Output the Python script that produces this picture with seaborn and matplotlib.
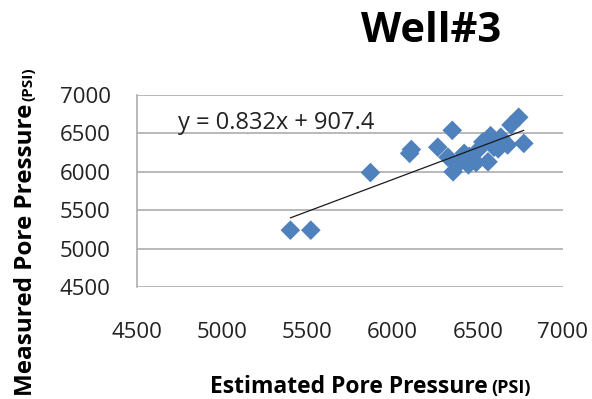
import matplotlib
matplotlib.use("Agg")
import matplotlib.pyplot as plt
import seaborn as sns
import numpy as np
import pandas as pd

# Estimated vs measured pore pressure, Well #3 (psi)
estimated = [5400, 5520, 5870, 6100, 6110, 6265, 6350, 6355, 6325, 6380, 6420,
             6445, 6450, 6490, 6500, 6530, 6560, 6575, 6595, 6620, 6635, 6675,
             6695, 6740, 6770]
measured = [5240, 5240, 5990, 6240, 6290, 6320, 6540, 6000, 6190, 6090, 6240,
            6090, 6200, 6120, 6280, 6390, 6130, 6470, 6320, 6300, 6450, 6350,
            6610, 6710, 6370]

# Linear trend line y = slope * x + intercept
slope = 0.832
intercept = 907.4
trend_label = "y = 0.832x + 907.4"

ticks = [4500, 5000, 5500, 6000, 6500, 7000]
title = "Well#3"
xlabel_main, xlabel_unit = "Estimated Pore Pressure", "(PSI)"
ylabel_main, ylabel_unit = "Measured Pore Pressure", "(PSI)"

sns.set_theme(style="white")
plt.rcParams["font.family"] = ["Open Sans", "DejaVu Sans"]

W, H = 592, 399
fig = plt.figure(figsize=(W / 100, H / 100), dpi=100)
ax = fig.add_axes([137 / W, 1 - 287 / H, (563 - 137) / W, (287 - 95) / H])

df = pd.DataFrame({"est": estimated, "meas": measured})
sns.scatterplot(data=df, x="est", y="meas", marker="D", s=100,
                color="#4F81BD", edgecolor="none", linewidth=0, ax=ax, zorder=3)

tx = np.array([min(estimated), max(estimated)])
trend = pd.DataFrame({"x": tx, "y": slope * tx + intercept})
sns.lineplot(data=trend, x="x", y="y", color="#1a1a1a", linewidth=0.9,
             ax=ax, zorder=4)

ax.set_xlim(ticks[0], ticks[-1])
ax.set_ylim(ticks[0], ticks[-1])
ax.set_xticks(ticks)
ax.set_yticks(ticks)
ax.tick_params(axis="both", length=0, labelsize=16, colors="#222222")
ax.tick_params(axis="y", pad=19)
ax.tick_params(axis="x", pad=25)
ax.yaxis.grid(True, color="#a6a6a6", linewidth=1.1)
ax.xaxis.grid(False)
for side in ["top", "right", "bottom"]:
    ax.spines[side].set_visible(False)
ax.spines["left"].set_color("#a6a6a6")
ax.spines["left"].set_linewidth(1.1)
ax.set_xlabel("")
ax.set_ylabel("")

ax.text(4740, 6640, trend_label, fontsize=17, color="#222222", va="center",
        ha="left")

fig.text(431 / W, 1 - 31 / H, title, fontsize=30, fontweight="bold",
         ha="center", va="center", color="black")

# x-axis label with smaller unit suffix
xl = fig.text(210 / W, 1 - 393 / H, xlabel_main, fontsize=16.5,
              fontweight="bold", ha="left", va="baseline", color="black")
fig.canvas.draw()
ext = xl.get_window_extent()
fig.text((ext.x1 + 3) / W, 1 - 393 / H, xlabel_unit, fontsize=13,
         fontweight="bold", ha="left", va="baseline", color="black")

# y-axis label with smaller unit suffix (reads bottom to top)
yl = fig.text(32 / W, 1 - 396 / H, ylabel_main, fontsize=17.5,
              fontweight="bold", rotation=90, rotation_mode="anchor",
              ha="left", va="baseline", color="black")
fig.canvas.draw()
ext = yl.get_window_extent()
fig.text(32 / W, (ext.y1 + 3) / H, ylabel_unit, fontsize=11,
         fontweight="bold", rotation=90, rotation_mode="anchor",
         ha="left", va="baseline", color="black")

fig.savefig("out.png", dpi=100)
